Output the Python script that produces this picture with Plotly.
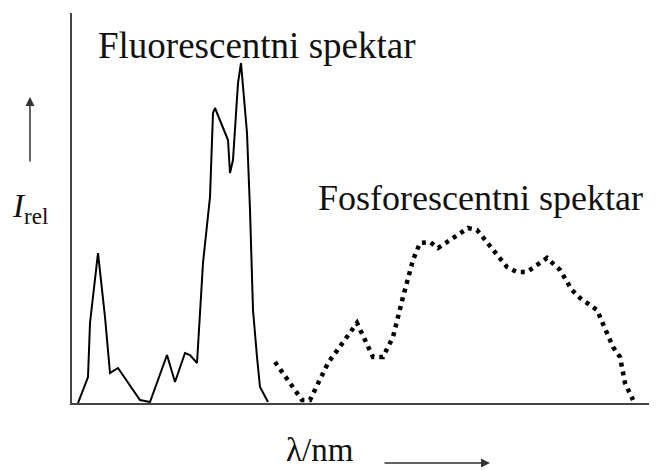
import plotly.graph_objects as go

# Relative wavelength (arbitrary units) and relative intensity
fluor_x = [6, 16, 18, 26, 33, 36, 38, 46, 68, 78, 95, 103, 113, 118, 125, 131, 138, 141, 143, 156, 158, 161, 166, 169, 175, 178, 181, 185, 188, 196]
fluor_y = [0, 26, 80, 150, 86, 53, 30, 35, 3, 1, 48, 21, 50, 48, 40, 140, 206, 290, 295, 263, 230, 243, 320, 340, 270, 193, 93, 46, 16, 1]

phos_x = [203, 230, 238, 256, 285, 301, 311, 321, 331, 341, 348, 358, 366, 381, 396, 405, 421, 435, 445, 455, 475, 488, 500, 508, 525, 541, 548, 553, 561]
phos_y = [41, 3, 3, 40, 80, 46, 46, 66, 106, 143, 160, 161, 155, 165, 175, 173, 153, 136, 131, 131, 145, 133, 113, 105, 93, 56, 46, 20, 3]

label_fluor = "Fluorescentni spektar"
label_phos = "Fosforescentni spektar"
label_y = "<i>I</i><sub>rel</sub>"
label_x = "λ/nm"

# the page body has an 8px margin, so the figure is drawn 8px smaller
OFF = 8
W, H = 657 - OFF, 470 - OFF
AX_LEFT, AX_TOP, AX_BOTTOM = 72, 13, 403   # positions in the window
L = AX_LEFT - OFF
T = AX_TOP - OFF
B = H - (AX_BOTTOM - OFF)
R = 0
pw = W - L - R
ph = H - T - B

def px(x):
    return (x - AX_LEFT) / pw

def py(y):
    return (AX_BOTTOM - y) / ph

FONT = "Liberation Serif"

fig = go.Figure()
fig.add_trace(go.Scatter(x=fluor_x, y=fluor_y, mode="lines",
                         line=dict(color="black", width=2), showlegend=False))
fig.add_trace(go.Scatter(x=phos_x, y=phos_y, mode="lines",
                         line=dict(color="black", width=4.5, dash="4px,5px"), showlegend=False))

fig.update_layout(
    width=W, height=H,
    margin=dict(l=L, r=R, t=T, b=B),
    paper_bgcolor="white", plot_bgcolor="white",
    xaxis=dict(range=[0, pw], showgrid=False, zeroline=False, showticklabels=False,
               ticks="", showline=True, linecolor="#444", linewidth=2),
    yaxis=dict(range=[0, ph], showgrid=False, zeroline=False, showticklabels=False,
               ticks="", showline=True, linecolor="#444", linewidth=1.5),
    annotations=[
        dict(text=label_fluor, xref="paper", yref="paper", x=px(96), y=py(45),
             xanchor="left", yanchor="middle", showarrow=False,
             font=dict(family=FONT, size=37, color="#111")),
        dict(text=label_phos, xref="paper", yref="paper", x=px(316), y=py(198),
             xanchor="left", yanchor="middle", showarrow=False,
             font=dict(family=FONT, size=36, color="#111")),
        dict(text=label_y, xref="paper", yref="paper", x=px(10), y=py(208),
             xanchor="left", yanchor="middle", showarrow=False,
             font=dict(family=FONT, size=33, color="#111")),
        dict(text=label_x, xref="paper", yref="paper", x=px(284), y=py(450),
             xanchor="left", yanchor="middle", showarrow=False,
             font=dict(family=FONT, size=33, color="#111")),
        dict(text="", xref="paper", yref="paper", x=px(30), y=py(97),
             showarrow=True, ax=0, ay=66, arrowhead=2, arrowsize=1.2,
             arrowwidth=1.5, arrowcolor="#333"),
        dict(text="", xref="paper", yref="paper", x=px(490), y=py(463),
             showarrow=True, ax=-107, ay=0, arrowhead=2, arrowsize=1.2,
             arrowwidth=1.5, arrowcolor="#333"),
    ],
)

fig.write_html("out.html")
